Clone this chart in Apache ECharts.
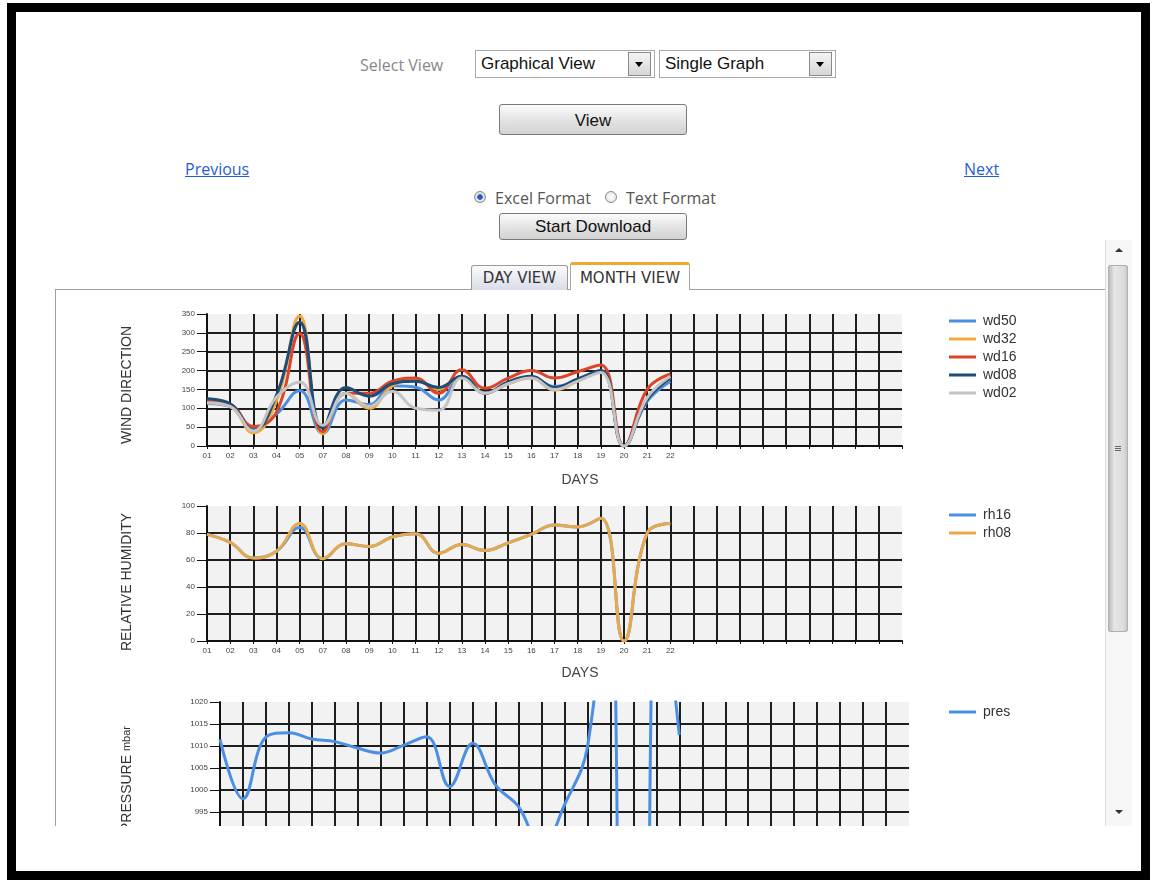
<!DOCTYPE html>
<html>
<head>
<meta charset="utf-8">
<script src="https://cdn.jsdelivr.net/npm/echarts@6/dist/echarts.min.js"></script>
<style>
  html,body{margin:0;padding:0;background:#fff;width:1153px;height:880px;overflow:hidden;}
  .abs{position:absolute;}
  #frame{position:absolute;left:7px;top:3px;width:1125px;height:859px;border:9px solid #000;}
  .lbl{font-family:"Open Sans",sans-serif;font-size:16px;color:#888;}
  .sel{position:absolute;height:26px;border:1px solid #a9a9a9;background:#fff;font-family:"Liberation Sans",Arial,sans-serif;font-size:17px;color:#111;line-height:26px;padding-left:5px;box-sizing:content-box;}
  .dd{position:absolute;top:1px;width:21px;height:22px;border:1px solid #8a8a8a;background:linear-gradient(#f4f4f4,#d6d6d6);}
  .dd:after{content:"";position:absolute;left:6px;top:9px;border-left:4px solid transparent;border-right:4px solid transparent;border-top:5px solid #000;}
  .btn{position:absolute;border:1px solid #7a7a7a;border-radius:3px;background:linear-gradient(#fbfbfb,#e2e2e2 55%,#d2d2d2);font-family:"Liberation Sans",Arial,sans-serif;font-size:17px;color:#111;text-align:center;box-sizing:border-box;}
  .lnk{position:absolute;font-family:"Open Sans",sans-serif;font-size:16px;color:#2a5bd7;text-decoration:underline;}
  .radio{position:absolute;width:12px;height:12px;border-radius:50%;border:1px solid #8a8a8a;background:radial-gradient(#fff,#ddd);box-sizing:border-box;}
  .tab{position:absolute;font-family:"DejaVu Sans",Verdana,sans-serif;font-size:15px;color:#333;text-align:center;box-sizing:border-box;}
</style>
</head>
<body>
<div id="frame"></div>

<div class="abs lbl" style="left:360px;top:54px;">Select View</div>
<div class="sel" style="left:475px;top:50px;width:173px;">Graphical View<div class="dd" style="left:152px;"></div></div>
<div class="sel" style="left:659px;top:50px;width:170px;">Single Graph<div class="dd" style="left:149px;"></div></div>
<div class="btn" style="left:499px;top:104px;width:188px;height:31px;line-height:31px;">View</div>

<div class="lnk" style="left:185px;top:158px;">Previous</div>
<div class="lnk" style="left:964px;top:158px;">Next</div>

<div class="radio" style="left:474px;top:191px;background:radial-gradient(#1d4f9a 0,#2c6cc4 35%,#e8e8e8 45%,#cfcfcf);"></div>
<div class="abs lbl" style="left:495px;top:187px;color:#555;">Excel Format</div>
<div class="radio" style="left:605px;top:191px;"></div>
<div class="abs lbl" style="left:626px;top:187px;color:#555;">Text Format</div>
<div class="btn" style="left:499px;top:213px;width:188px;height:27px;line-height:26px;">Start Download</div>

<!-- tabs and panel -->
<div class="abs" style="left:55px;top:289px;width:1051px;height:1px;background:#a0a0a0;"></div>
<div class="abs" style="left:55px;top:289px;width:1px;height:537px;background:#a0a0a0;"></div>
<div class="tab" style="left:471px;top:265px;width:97px;height:25px;line-height:24px;border:1px solid #9a9a9a;border-bottom:none;border-radius:3px 3px 0 0;background:linear-gradient(#fbfbfd,#d9dce7);">DAY VIEW</div>
<div class="tab" style="left:570px;top:262px;width:120px;height:28px;line-height:26px;border:1px solid #a8a8a8;border-top:3px solid #f0a830;border-bottom:none;border-radius:3px 3px 0 0;background:#fff;">MONTH VIEW</div>

<!-- scrollbar -->
<div class="abs" style="left:1105px;top:240px;width:26px;height:586px;background:#f7f7f7;border-left:1px solid #dcdcdc;"></div>
<div class="abs" style="left:1115px;top:248px;border-left:4px solid transparent;border-right:4px solid transparent;border-bottom:4px solid #333;"></div>
<div class="abs" style="left:1108px;top:265px;width:20px;height:367px;box-sizing:border-box;border:1px solid #b0b0b0;border-radius:2px;background:linear-gradient(to right,#bdbdbd,#e6e6e6 30%,#dcdcdc 80%,#c8c8c8);"></div>
<div class="abs" style="left:1115px;top:446px;width:6px;height:1px;background:#666;box-shadow:0 2px 0 #666,0 4px 0 #666;"></div>
<div class="abs" style="left:1115px;top:810px;border-left:4px solid transparent;border-right:4px solid transparent;border-top:4px solid #333;"></div>

<div class="abs" style="left:56px;top:290px;width:1048px;height:536px;overflow:hidden;">
  <div id="chart" style="position:absolute;left:0;top:0;width:1048px;height:600px;"></div>
</div>

<script>
// ---------- data ----------
const days = ['01','02','03','04','05','07','08','09','10','11','12','13','14','15','16','17','18','19','20','21','22'];
const monthSlots = 31;

const windNames = ['wd50','wd32','wd16','wd08','wd02'];
const wd50 = [113,105,45,85,147,34,122,110,160,156,122,184,140,167,182,158,175,197,0,118,171];
const wd32 = [115,105,35,120,345,32,140,100,160,175,150,185,140,165,180,148,172,200,0,125,180];
const wd16 = [118,110,52,90,298,38,140,140,172,180,140,202,153,180,200,180,197,215,0,150,191];
const wd08 = [125,112,42,135,328,48,155,132,165,172,155,185,140,170,185,155,178,200,0,123,180];
const wd02 = [115,105,40,130,170,55,140,105,145,100,95,180,140,165,180,150,172,195,0,128,185];

const rhNames = ['rh16','rh08'];
const rh16 = [79,73,61.5,66.5,84,61,72,70,77,79.5,65,71.5,67,72.7,79,86,84.5,91,0,80,87];
const rh08 = [79,73,61.5,66.5,87,61,72,70,77,79.5,65,71.5,67,72.7,79,86,84.5,91,0,80,87];

const presNames = ['pres'];
const pres = [1011.5,998,1012,1013,1011.6,1011,1009.5,1008.4,1010.2,1012.1,1000.8,1010.6,1001.1,996.2,987,996.6,1009.8,1060,0,1060,1012.5];

const windColors = ['#4a8fe3','#f2aa3c','#dc4527','#1d4d78','#c4c4c4'];
const rhColors = ['#4a8fe3','#e9a94a'];
const presColors = ['#4a8fe3'];

// ---------- build ----------
const cats = days.concat(Array(monthSlots - days.length).fill(''));
const grid = '#1e1e1e';
const vLineColors = cats.map((c,i)=> i === cats.length-1 ? 'rgba(0,0,0,0)' : grid);
function hColors(n){ return Array.from({length:n},(v,i)=> i===n-1 ? 'rgba(0,0,0,0)' : grid); }
const FONT = '"Liberation Sans", Arial, sans-serif';

function xAxis(gi){
  return {type:'category', gridIndex:gi, data:cats, boundaryGap:false,
    axisLine:{show:true, lineStyle:{color:'#111', width:2}},
    axisTick:{show:true, length:3, inside:false, lineStyle:{color:'#111', width:1}},
    axisLabel:{show:true, interval:0, fontSize:8, color:'#444', margin:6, fontFamily:FONT},
    splitLine:{show:true, interval:0, lineStyle:{color:vLineColors, width:2}}};
}
function yAxis(gi, min, max, step){
  const n = Math.round((max-min)/step)+1;
  return {type:'value', gridIndex:gi, min:min, max:max, interval:step,
    axisLine:{show:true, lineStyle:{color:'#111', width:2}},
    axisTick:{show:true, length:10, lineStyle:{color:'#111', width:1}},
    axisLabel:{fontSize:8, color:'#444', margin:12, fontFamily:FONT, formatter:(v)=>String(v)},
    splitLine:{show:true, lineStyle:{color:hColors(n), width:2}}};
}
function mkSeries(names, arrs, colors, gi, sm){
  return names.map((nm,i)=>({name:nm, type:'line', xAxisIndex:gi, yAxisIndex:gi,
    data:arrs[i], smooth:sm, symbol:'none', clip:true,
    lineStyle:{width:3, color:colors[i]}, itemStyle:{color:colors[i]}}));
}
function legend(names, top){
  return {data:names, orient:'vertical', left:888, top:top, icon:'rect',
    itemWidth:27, itemHeight:3, itemGap:4, selectedMode:false,
    textStyle:{fontSize:14, color:'#333', lineHeight:14, fontFamily:FONT, padding:[0,0,0,2]}};
}
function vText(txt, x, y, rich){
  return {type:'text', x:x, y:y, rotation:Math.PI/2,
    style:{text:txt, fontSize:14, fontFamily:FONT, fill:'#333', align:'center', verticalAlign:'middle', rich:rich}};
}
function hText(txt, x, y){
  return {type:'text', x:x, y:y, style:{text:txt, fontSize:14, fontFamily:FONT, fill:'#444', align:'center', verticalAlign:'middle'}};
}

const chart = echarts.init(document.getElementById('chart'), null, {renderer:'canvas'});
chart.setOption({
  animation:false,
  backgroundColor:'transparent',
  grid:[
    {left:151, top:24, width:695, height:132, show:true, backgroundColor:'#f2f2f2', borderWidth:0},
    {left:151, top:216, width:695, height:135, show:true, backgroundColor:'#f2f2f2', borderWidth:0},
    {left:164, top:412, width:689, height:132, show:true, backgroundColor:'#f2f2f2', borderWidth:0}
  ],
  xAxis:[xAxis(0), xAxis(1), xAxis(2)],
  yAxis:[yAxis(0,0,350,50), yAxis(1,0,100,20), yAxis(2,990,1020,5)],
  legend:[legend(windNames,19), legend(rhNames,213), legend(presNames,410)],
  graphic:[
    vText('WIND DIRECTION', 71, 95),
    vText('RELATIVE HUMIDITY', 71, 292),
    vText('{a|PRESSURE} {b|mbar}', 71, 489, {a:{fontSize:14, fontFamily:FONT, fill:'#333'}, b:{fontSize:11, fontFamily:FONT, fill:'#333'}}),
    hText('DAYS', 524, 190),
    hText('DAYS', 524, 383)
  ],
  series:[].concat(
    mkSeries(windNames, [wd50,wd32,wd16,wd08,wd02], windColors, 0, 0.45),
    mkSeries(rhNames, [rh16,rh08], rhColors, 1, 0.45),
    mkSeries(presNames, [pres], presColors, 2, 0.4)
  )
});
</script>
</body>
</html>
